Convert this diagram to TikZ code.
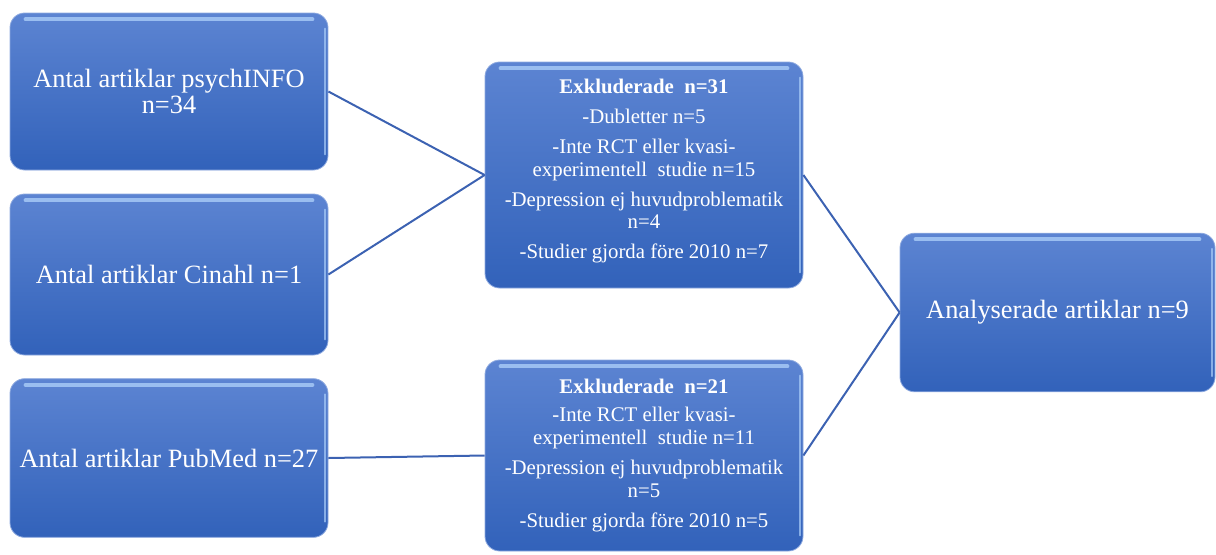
\documentclass[tikz,border=0pt]{standalone}
\usepackage{fontspec}
\setmainfont{Liberation Serif}
\usepackage{tikz}

\definecolor{boxtop}{RGB}{92,132,210}
\definecolor{boxbot}{RGB}{50,98,186}
\definecolor{boxhi}{RGB}{170,205,248}
\definecolor{linkcol}{RGB}{60,98,178}

\begin{document}
\begin{tikzpicture}[x=0.75pt,y=-0.75pt,
  box/.style={rectangle,rounded corners=11pt,top color=boxtop,bottom color=boxbot,
    draw=boxtop!70!white,line width=0.6pt,text=white,align=center,inner sep=2pt},
  src/.style={box,minimum width=238.5pt,minimum height=119pt,
    font=\fontsize{19.8}{19.8}\selectfont},
  excl/.style={box,minimum width=238.5pt,font=\fontsize{15.6}{17}\selectfont},
  link/.style={draw=linkcol,line width=1.5pt}]
\useasboundingbox (0,0) rectangle (1216,554);

% source boxes
\node[src,minimum height=117.75pt] (psych) at (169,91.5) {Antal artiklar psychINFO\\n=34};
\node[src,minimum height=120.75pt] (cinahl) at (169,274.5) {Antal artiklar Cinahl n=1};
\node[src] (pubmed) at (169,458) {Antal artiklar PubMed n=27};

% excluded
\node[excl,minimum height=169.5pt] (excl1) at (644,175) {\textbf{Exkluderade\ \ n=31}\\[5.5pt]
  -Dubletter n=5\\[5.5pt]
  -Inte RCT eller kvasi-\\experimentell\ \ studie n=15\\[5.5pt]
  -Depression ej huvudproblematik\\n=4\\[5.5pt]
  -Studier gjorda före 2010 n=7\\[-8pt]};
\node[excl,minimum height=143.25pt] (excl2) at (644,455.5) {\textbf{Exkluderade\ \ n=21}\\[4pt]
  -Inte RCT eller kvasi-\\experimentell\ \ studie n=11\\[5.5pt]
  -Depression ej huvudproblematik\\n=5\\[5.5pt]
  -Studier gjorda före 2010 n=5};

% result
\node[src,minimum width=236.25pt] (analys) at (1057.5,312.5) {Analyserade artiklar n=9};

% highlights
\foreach \b in {psych,cinahl,pubmed,excl1,excl2,analys}{
  \draw[boxhi,line width=3pt,line cap=round,opacity=0.8]
    ([xshift=12pt,yshift=-5pt]\b.north west) -- ([xshift=-12pt,yshift=-5pt]\b.north east);
  \draw[boxhi,line width=1.5pt,line cap=round,opacity=0.7]
    ([xshift=-2.5pt,yshift=-12pt]\b.north east) -- ([xshift=-2.5pt,yshift=12pt]\b.south east);
}

% connectors
\draw[link] (psych.east) -- (excl1.west);
\draw[link] (cinahl.east) -- (excl1.west);
\draw[link] (pubmed.east) -- (excl2.west);
\draw[link] (excl1.east) -- (analys.west);
\draw[link] (excl2.east) -- (analys.west);

\end{tikzpicture}
\end{document}
